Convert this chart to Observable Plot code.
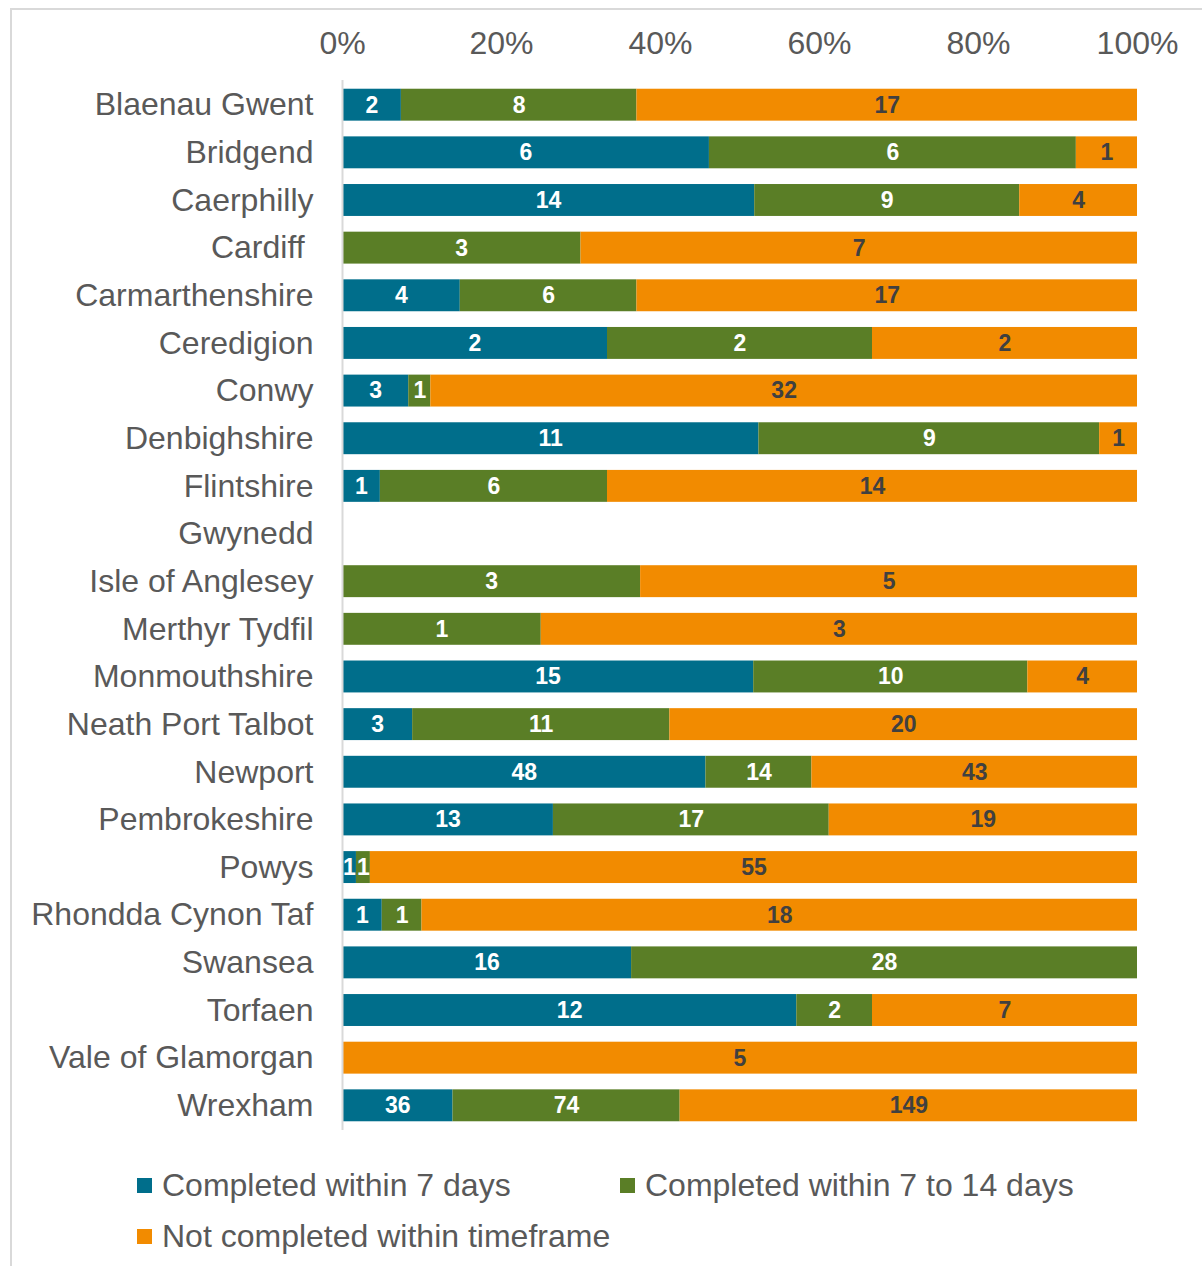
<!DOCTYPE html>
<html><head><meta charset="utf-8">
<script src="https://cdn.jsdelivr.net/npm/d3@7"></script>
<script src="https://cdn.jsdelivr.net/npm/@observablehq/plot@0.6"></script>
<style>
html,body{margin:0;padding:0;background:#fff;overflow:hidden;}
body{width:1202px;height:1266px;position:relative;font-family:"Liberation Sans",Arial,sans-serif;}
#frame{position:absolute;left:10px;top:8px;width:1400px;height:1400px;border:2px solid #d9d9d9;box-sizing:border-box;}
#chart{position:absolute;left:0;top:0;}
#chart svg text{white-space:pre;}
.legend-item{position:absolute;font-size:32px;color:#595959;display:flex;align-items:center;white-space:nowrap;line-height:36px;}
.sw{width:15px;height:15px;margin-right:10px;flex:none;}
</style>
</head><body>
<div id="frame"></div>
<div id="chart"></div>
<div id="legend"></div>
<script>
const areas = ["Blaenau Gwent","Bridgend","Caerphilly","Cardiff ","Carmarthenshire","Ceredigion","Conwy","Denbighshire","Flintshire","Gwynedd","Isle of Anglesey","Merthyr Tydfil","Monmouthshire","Neath Port Talbot","Newport","Pembrokeshire","Powys","Rhondda Cynon Taf","Swansea","Torfaen","Vale of Glamorgan","Wrexham"];
const series = ["Completed within 7 days","Completed within 7 to 14 days","Not completed within timeframe"];
const within7 =      [2,6,14,0,4,2,3,11,1,0,0,0,15,3,48,13,1,1,16,12,0,36];
const within7to14 =  [8,6,9,3,6,2,1,9,6,0,3,1,10,11,14,17,1,1,28,2,0,74];
const notCompleted = [17,1,4,7,17,2,32,1,14,0,5,3,4,20,43,19,55,18,0,7,5,149];
const colors = ["#006E8B","#5A7E26","#F28B00"];
const xTicks = [0,0.2,0.4,0.6,0.8,1];

const values = [within7, within7to14, notCompleted];
const rows = [];
areas.forEach((a,i)=>{ series.forEach((s,j)=>{ const v = values[j][i]; if (v>0) rows.push({area:a, series:s, value:v}); }); });

const stackOpts = {x:"value", y:"area", z:"series", offset:"normalize", order:null};

const chart = Plot.plot({
  width:1202, height:1140,
  marginLeft:342, marginRight:65, marginTop:73, marginBottom:3,
  style:{fontFamily:"'Liberation Sans', Arial, sans-serif", fontSize:"32px", color:"#595959", background:"transparent", overflow:"visible"},
  x:{domain:[0,1], axis:"top", ticks:xTicks, tickFormat:d=>Math.round(d*100)+"%", tickSize:0, tickPadding:20, label:null},
  y:{domain:areas, padding:0.33, round:false, tickSize:0, tickPadding:29, label:null},
  color:{domain:series, range:colors},
  marks:[
    Plot.barX(rows, Plot.stackX({...stackOpts, fill:"series"})),
    Plot.ruleX([0], {stroke:"#d9d9d9", strokeWidth:2, insetTop:7, insetBottom:7}),
    Plot.text(rows, Plot.stackX({...stackOpts, text:d=>d.series===series[2]?"":String(d.value), fill:"#ffffff", fontWeight:"bold", fontSize:23})),
    Plot.text(rows, Plot.stackX({...stackOpts, text:d=>d.series===series[2]?String(d.value):"", fill:"#404040", fontWeight:"bold", fontSize:23}))
  ]
});
document.getElementById("chart").appendChild(chart);

const legendPos = [[137,1167],[620,1167],[137,1218]];
const lg = document.getElementById("legend");
series.forEach((s,i)=>{
  const d = document.createElement("div");
  d.className = "legend-item";
  d.style.left = legendPos[i][0]+"px";
  d.style.top = legendPos[i][1]+"px";
  d.innerHTML = `<span class="sw" style="background:${colors[i]}"></span><span>${s}</span>`;
  lg.appendChild(d);
});
</script>
</body></html>
